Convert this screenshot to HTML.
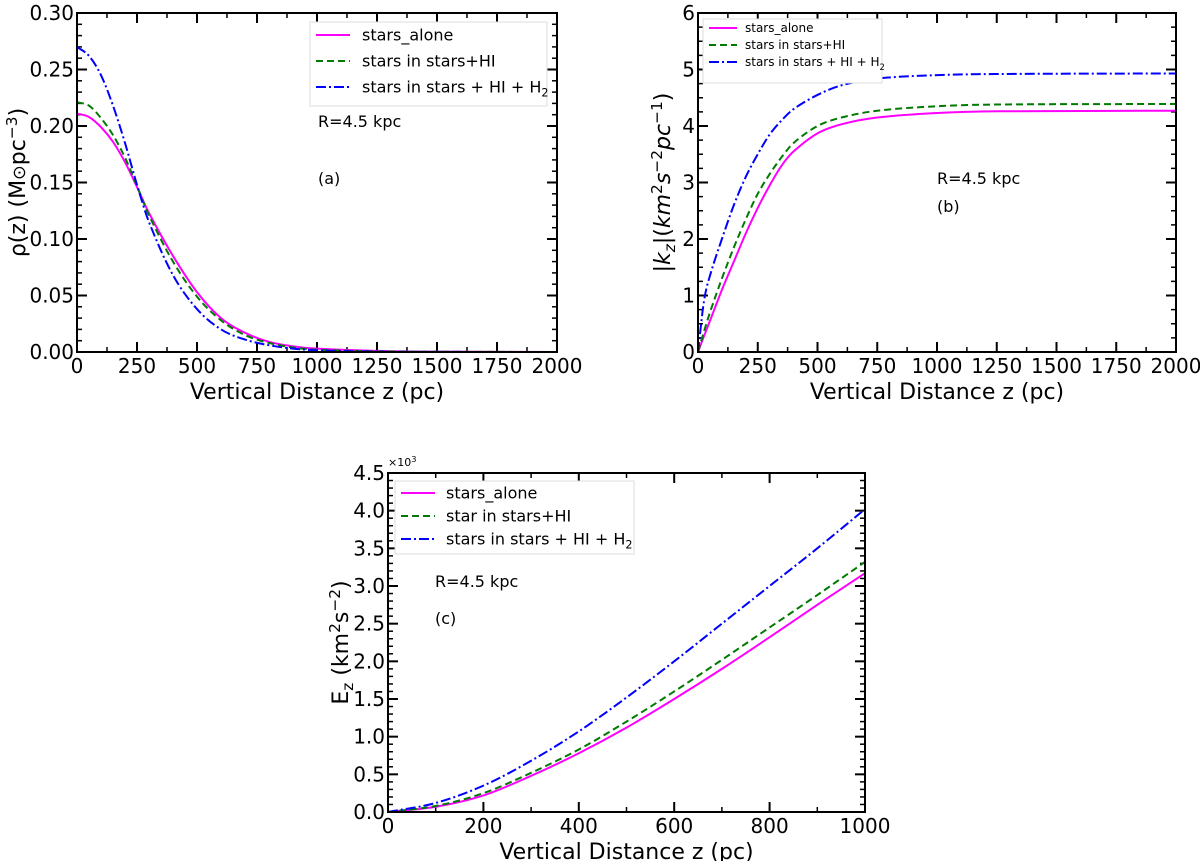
<!DOCTYPE html>
<html><head><meta charset="utf-8">
<style>
body{margin:0;background:#fff;}
svg{display:block;font-family:"DejaVu Sans","Liberation Sans",sans-serif;}
</style></head>
<body>
<svg id="fig" width="1200" height="861" viewBox="0 0 1200 861"></svg>
<script>
// ---- Panel (a) data ----
const zA = [0,50,100,150,200,250,300,400,500,600,700,800,900,1000,1250,1500,2000];
const rhoStars = [0.211,0.208,0.199,0.186,0.168,0.146,0.123,0.085,0.053,0.030,0.017,0.009,0.005,0.003,0.001,0.0003,0];
const rhoHI = [0.221,0.218,0.207,0.192,0.172,0.147,0.121,0.080,0.049,0.028,0.015,0.008,0.004,0.002,0.0006,0.0002,0];
const rhoH2 = [0.270,0.262,0.245,0.218,0.185,0.148,0.115,0.068,0.038,0.020,0.011,0.006,0.003,0.0015,0.0004,0.0001,0];
const xTicksA = [0,250,500,750,1000,1250,1500,1750,2000];
const yTicksA = ["0.00","0.05","0.10","0.15","0.20","0.25","0.30"];
// ---- Panel (b) data ----
const zB = [0,25,50,100,150,200,250,300,350,400,500,600,750,1000,1250,2000];
const kStars = [0,0.28,0.55,1.1,1.6,2.1,2.55,2.95,3.3,3.55,3.87,4.03,4.15,4.23,4.26,4.27];
const kHI = [0,0.36,0.7,1.3,1.85,2.35,2.8,3.15,3.45,3.7,4.0,4.15,4.27,4.35,4.38,4.39];
const kH2 = [0,0.9,1.35,2.0,2.6,3.1,3.5,3.85,4.1,4.3,4.55,4.72,4.84,4.9,4.92,4.93];
const xTicksB = [0,250,500,750,1000,1250,1500,1750,2000];
const yTicksB = ["0","1","2","3","4","5","6"];
// ---- Panel (c) data (x10^3) ----
const zC = [0,100,200,300,400,500,600,700,800,900,1000];
const eStars = [0,0.07,0.22,0.48,0.78,1.12,1.5,1.9,2.32,2.75,3.17];
const eHI = [0,0.08,0.25,0.52,0.83,1.2,1.6,2.02,2.45,2.88,3.32];
const eH2 = [0,0.12,0.35,0.68,1.07,1.52,2.0,2.5,3.0,3.5,4.02];
const xTicksC = [0,200,400,600,800,1000];
const yTicksC = ["0.0","0.5","1.0","1.5","2.0","2.5","3.0","3.5","4.0","4.5"];

const NS="http://www.w3.org/2000/svg";
const fig=document.getElementById('fig');
function mk(tag,attrs,parent){const e=document.createElementNS(NS,tag);for(const k in attrs)e.setAttribute(k,attrs[k]);(parent||fig).appendChild(e);return e;}
function path(p){
  const n=p.length,m=[];
  for(let i=0;i<n;i++){
    const a=p[Math.max(i-1,0)],b=p[Math.min(i+1,n-1)];
    m.push((b[1]-a[1])/(b[0]-a[0]));
  }
  let d="M"+p[0][0]+","+p[0][1];
  for(let i=0;i<n-1;i++){
    const dx=(p[i+1][0]-p[i][0])/3;
    d+=" C"+(p[i][0]+dx)+","+(p[i][1]+m[i]*dx)+" "+(p[i+1][0]-dx)+","+(p[i+1][1]-m[i+1]*dx)+" "+p[i+1][0]+","+p[i+1][1];
  }
  return d;
}
const styles=[{c:"#ff00ff",d:""},{c:"#007a00",d:"7,4"},{c:"#0000ff",d:"10,3,2,3"}];

function panel(o){
  const g=mk('g',{});
  
  
  const X=v=>o.L+(v-o.xmin)/(o.xmax-o.xmin)*(o.R-o.L);
  const Y=v=>o.B-(v-o.ymin)/(o.ymax-o.ymin)*(o.B-o.T);
  for(let v=o.xmin;v<=o.xmax+1e-9;v+=o.xminor){const x=X(v);
    mk('line',{x1:x,x2:x,y1:o.B,y2:o.B-5,stroke:"#000","stroke-width":1.5},g);
    mk('line',{x1:x,x2:x,y1:o.T,y2:o.T+5,stroke:"#000","stroke-width":1.5},g);}
  for(let v=o.ymin;v<=o.ymax+1e-9;v+=o.yminor){const y=Y(v);
    mk('line',{x1:o.L,x2:o.L+5,y1:y,y2:y,stroke:"#000","stroke-width":1.5},g);
    mk('line',{x1:o.R,x2:o.R-5,y1:y,y2:y,stroke:"#000","stroke-width":1.5},g);}
  o.xt.forEach(v=>{const x=X(v);
    mk('line',{x1:x,x2:x,y1:o.B,y2:o.B-10,stroke:"#000","stroke-width":2},g);
    mk('line',{x1:x,x2:x,y1:o.T,y2:o.T+10,stroke:"#000","stroke-width":2},g);
    const t=mk('text',{x:x,y:o.B+21,"text-anchor":"middle","font-size":20},g);t.textContent=v;
    });
  o.yt.forEach(s=>{const y=Y(parseFloat(s));
    mk('line',{x1:o.L,x2:o.L+10,y1:y,y2:y,stroke:"#000","stroke-width":2},g);
    mk('line',{x1:o.R,x2:o.R-10,y1:y,y2:y,stroke:"#000","stroke-width":2},g);
    const t=mk('text',{x:o.L-3,y:y+7,"text-anchor":"end","font-size":20},g);t.textContent=s;
    });
  const defs=mk('defs',{},g);
  const cp=mk('clipPath',{id:o.name+"-clip"},defs);
  mk('rect',{x:o.L,y:o.T,width:o.R-o.L,height:o.B-o.T},cp);
  o.series.forEach((s,i)=>{
    const pts=o.xs.map((x,j)=>[X(x),Y(s[j])]);
    const p=mk('path',{d:path(pts),fill:"none",stroke:styles[i].c,"stroke-width":2,"stroke-dasharray":styles[i].d,"clip-path":"url(#"+o.name+"-clip)"},g);
    
  });
  mk('rect',{x:o.L,y:o.T,width:o.R-o.L,height:o.B-o.T,fill:"none",stroke:"#000","stroke-width":2},g);
  const lg=mk('g',{},g);
  const Lb=o.leg;
  mk('rect',{x:Lb.x,y:Lb.y,width:Lb.w,height:Lb.h,fill:"#fff",stroke:"#ddd","stroke-width":1},lg);
  Lb.labels.forEach((lab,i)=>{const y=Lb.y+Lb.pad+i*Lb.dy;
    mk('line',{x1:Lb.x+6,x2:Lb.x+6+Lb.lw,y1:y,y2:y,stroke:styles[i].c,"stroke-width":2,"stroke-dasharray":styles[i].d},lg);
    const t=mk('text',{x:Lb.x+Lb.tx,y:y+Lb.fs*0.35,"font-size":Lb.fs},lg);t.innerHTML=lab;
    });
  o.notes.forEach(n=>{const t=mk('text',{x:n[0],y:n[1],"font-size":16},g);t.textContent=n[2];
    });
  const xl=mk('text',{x:(o.L+o.R)/2,y:o.xly,"text-anchor":"middle","font-size":22},g);xl.textContent="Vertical Distance z (pc)";
  
  const yl=mk('text',{x:0,y:0,"text-anchor":"middle","font-size":22,transform:"translate("+o.ylx+","+((o.T+o.B)/2)+") rotate(-90)"},g);yl.innerHTML=o.ylab;
  
}
const l3=["stars_alone","stars in stars+HI","stars in stars + HI + H<tspan font-size='0.7em' dy='4'>2</tspan>"];
panel({name:"panel-a",L:77,R:557,T:13,B:352,xmin:0,xmax:2000,ymin:0,ymax:0.30,xminor:125,yminor:0.01,
  xt:xTicksA,yt:yTicksA,xs:zA,series:[rhoStars,rhoHI,rhoH2],keys:["stars-alone","stars-hi","stars-hi-h2"],
  leg:{x:310,y:22,w:237,h:84,pad:13,dy:26,lw:34,tx:52,fs:16,labels:l3},
  notes:[[318,127,"R=4.5 kpc"],[318,184,"(a)"]],xly:399,ylx:25,
  ylab:"ρ(z) (M<tspan font-size='0.8em'>⊙</tspan>pc<tspan font-size='0.7em' dy='-8'>−3</tspan><tspan dy='8'>)</tspan>"});
panel({name:"panel-b",L:698,R:1176,T:13,B:352,xmin:0,xmax:2000,ymin:0,ymax:6,xminor:125,yminor:0.25,
  xt:xTicksB,yt:yTicksB,xs:zB,series:[kStars,kHI,kH2],keys:["stars-alone","stars-hi","stars-hi-h2"],
  leg:{x:703,y:19,w:179,h:64,pad:9,dy:17,lw:28,tx:42,fs:12,labels:l3},
  notes:[[937,184,"R=4.5 kpc"],[937,212,"(b)"]],xly:399,ylx:670,
  ylab:"|<tspan font-style='italic'>k</tspan><tspan font-style='italic' font-size='0.7em' dy='5'>z</tspan><tspan dy='-5'>|(</tspan><tspan font-style='italic'>km</tspan><tspan font-size='0.7em' dy='-8'>2</tspan><tspan font-style='italic' dy='8'>s</tspan><tspan font-size='0.7em' dy='-8'>−2</tspan><tspan font-style='italic' dy='8'>pc</tspan><tspan font-size='0.7em' dy='-8'>−1</tspan><tspan dy='8'>)</tspan>"});
panel({name:"panel-c",L:388,R:865,T:473,B:812,xmin:0,xmax:1000,ymin:0,ymax:4.5,xminor:100,yminor:0.1,
  xt:xTicksC,yt:yTicksC,xs:zC,series:[eStars,eHI,eH2],keys:["stars-alone","stars-hi","stars-hi-h2"],
  leg:{x:395,y:481,w:239,h:73,pad:12,dy:23,lw:34,tx:51,fs:16,labels:["stars_alone","star in stars+HI","stars in stars + HI + H<tspan font-size='0.7em' dy='4'>2</tspan>"]},
  notes:[[435,587,"R=4.5 kpc"],[435,624,"(c)"]],xly:859,ylx:348,
  ylab:"E<tspan font-size='0.7em' dy='5'>z</tspan><tspan dy='-5'> (km</tspan><tspan font-size='0.7em' dy='-8'>2</tspan><tspan dy='8'>s</tspan><tspan font-size='0.7em' dy='-8'>−2</tspan><tspan dy='8'>)</tspan>"});
const mult=mk('text',{x:388,y:466,"font-size":11});mult.innerHTML="×10<tspan font-size='0.75em' dy='-4'>3</tspan>";


</script>
</body></html>
